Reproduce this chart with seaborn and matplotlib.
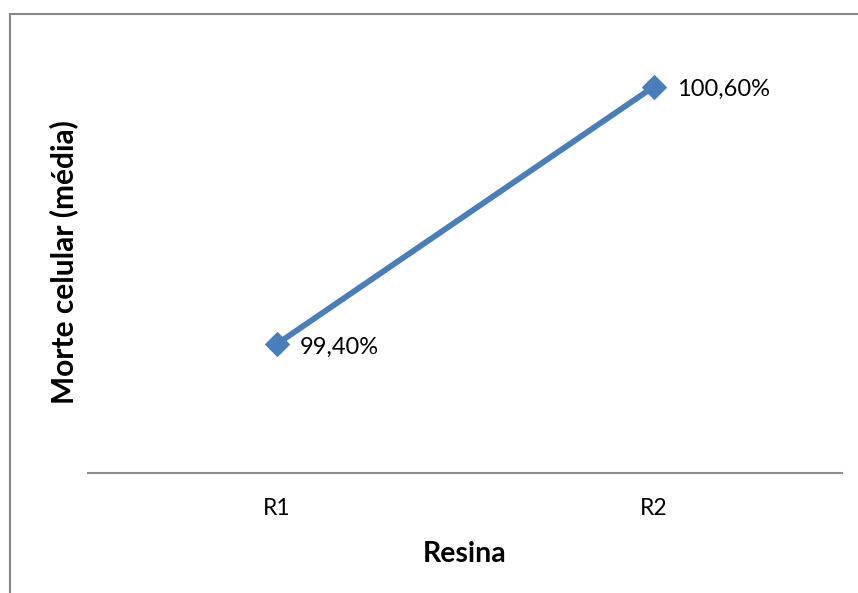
import matplotlib
matplotlib.use("Agg")
import matplotlib.pyplot as plt
from matplotlib.patches import Rectangle
import seaborn as sns
import pandas as pd

# Mean cell death per resin
resinas = ["R1", "R2"]
morte_media = [99.40, 100.60]
rotulos = ["99,40%", "100,60%"]

sns.set_theme(style="white")
plt.rcParams["font.family"] = ["Lato", "DejaVu Sans"]

df = pd.DataFrame({"Resina": resinas, "Morte": morte_media})

W, H = 858, 593
fig = plt.figure(figsize=(W / 100, H / 100), dpi=100)
ax = fig.add_axes([88 / W, 1 - 473 / H, (842 - 88) / W, (473 - 44) / H])

blue = "#4A7EBB"
sns.lineplot(data=df, x="Resina", y="Morte", ax=ax, color=blue, linewidth=4.2,
             marker="D", markersize=12.5, markeredgecolor=blue, sort=False)

for i, (v, lab) in enumerate(zip(morte_media, rotulos)):
    ax.annotate(lab, (i, v), xytext=(17, -2), textcoords="offset points",
                ha="left", va="center", fontsize=17, color="black")

ax.set_xlim(-0.5, 1.5)
ax.set_ylim(98.8, 100.8)
ax.set_yticks([])
ax.tick_params(axis="x", length=0, pad=18, labelsize=16.5, colors="black")
for s in ["top", "right", "left"]:
    ax.spines[s].set_visible(False)
ax.spines["bottom"].set_color("#8C8C8C")
ax.spines["bottom"].set_linewidth(1.5)

ax.set_xlabel("Resina", fontsize=20.5, fontweight="bold", labelpad=16, color="black")
ax.set_ylabel("")
fig.text(64 / W, 1 - 262 / H, "Morte celular (média)", rotation=90, fontsize=21.5,
         fontweight="bold", ha="center", va="center", color="black")

# Outer chart frame
fig.patches.append(Rectangle((10 / W, -0.1), 1.2, 1 - 14 / H + 0.1,
                             transform=fig.transFigure, fill=False,
                             edgecolor="#888888", linewidth=1.5))

fig.savefig("out.png", dpi=100)
